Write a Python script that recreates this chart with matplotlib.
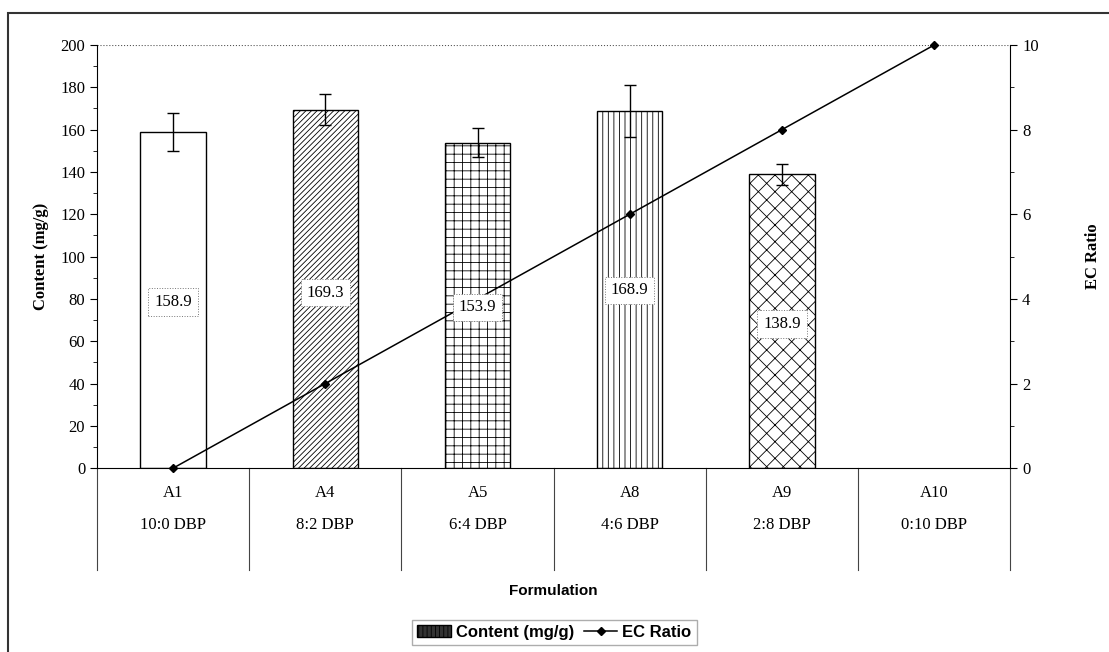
import numpy as np
import matplotlib
matplotlib.use('Agg')
import matplotlib.pyplot as plt
import matplotlib.transforms as mtransforms
from matplotlib.patches import Rectangle

plt.rcParams['font.family'] = 'Liberation Serif'
plt.rcParams['hatch.linewidth'] = 0.6
plt.rcParams['hatch.color'] = '#333333'

# data
codes = ['A1', 'A4', 'A5', 'A8', 'A9', 'A10']
ratios = ['10:0 DBP', '8:2 DBP', '6:4 DBP', '4:6 DBP', '2:8 DBP', '0:10 DBP']
content = [158.9, 169.3, 153.9, 168.9, 138.9, 0]
content_err = [9, 7.3, 7, 12.4, 5, 0]
ec_ratio = [0, 2, 4, 6, 8, 10]
label_y = [78.5, 83, 76, 84, 68]
hatches = ['', '//////', '++', '|||', 'xx']

fig = plt.figure(figsize=(11.09, 6.52), dpi=100)
ax = fig.add_axes([0.0875, 0.282, 0.8235, 0.649])

x = np.arange(len(codes))
for i in range(5):
    ax.bar(x[i], content[i], width=0.43, color='white', edgecolor='black',
           linewidth=1.0, hatch=hatches[i], zorder=2)

ax.set_xlim(-0.5, 5.5)
ax.set_ylim(0, 200)
ax.set_yticks(np.arange(0, 201, 20))
ax.set_yticks(np.arange(0, 201, 10), minor=True)
ax.tick_params(axis='y', labelsize=12, direction='out', length=5)
ax.tick_params(axis='y', which='minor', length=3)
ax.set_xticks([])
ax.axhline(200, color='#555555', lw=0.8, ls=':', zorder=1)
for s in ['top', 'right']:
    ax.spines[s].set_visible(False)
ax.set_ylabel('Content (mg/g)', fontsize=12, fontweight='bold', labelpad=8)

# two-level category labels with separators
trans = mtransforms.blended_transform_factory(ax.transData, ax.transAxes)
for i in range(len(codes)):
    ax.text(x[i], -0.058, codes[i], transform=trans, ha='center', va='center', fontsize=12)
    ax.text(x[i], -0.135, ratios[i], transform=trans, ha='center', va='center', fontsize=12)
for b in np.arange(-0.5, 6, 1):
    ax.plot([b, b], [0, -0.24], transform=trans, color='#444444', lw=0.8, clip_on=False)
ax.text(0.5, -0.29, 'Formulation', transform=ax.transAxes, ha='center', va='center',
        fontsize=11, fontweight='bold', family='Liberation Sans')

ax2 = ax.twinx()
ax2.plot(x, ec_ratio, color='black', lw=1.1, marker='D', markersize=4, zorder=3,
         clip_on=False)
ax2.set_ylim(0, 10)
ax2.set_yticks(np.arange(0, 11, 2))
ax2.set_yticks(np.arange(0, 11, 1), minor=True)
ax2.tick_params(axis='y', labelsize=12, length=5)
ax2.tick_params(axis='y', which='minor', length=3)
for s in ['top', 'left', 'bottom']:
    ax2.spines[s].set_visible(False)
ax2.set_ylabel('EC Ratio', fontsize=12, fontweight='bold', labelpad=33)

# error bars and value boxes drawn above the line, in content units
for i in range(5):
    ax2.errorbar(x[i], content[i], yerr=content_err[i], color='black',
                 capsize=4, elinewidth=1, capthick=1, zorder=4,
                 transform=ax.transData)
    ax2.text(x[i], label_y[i], '%.1f' % content[i], ha='center', va='center',
             fontsize=12, zorder=6, transform=ax.transData,
             bbox=dict(boxstyle='square,pad=0.35', fc='white', ec='#777777',
                       lw=0.7, ls=':'))

# legend
h1 = Rectangle((0, 0), 1, 1, fc='#333333', ec='black', hatch='||||')
h2, = ax2.plot([], [], color='black', lw=1.1, marker='D', markersize=4)
fig.legend([h1, h2], ['Content (mg/g)', 'EC Ratio'], loc='center',
           bbox_to_anchor=(0.5, 0.03), ncol=2, frameon=True, fancybox=False,
           edgecolor='#999999',
           prop={'weight': 'bold', 'size': 12, 'family': 'Liberation Sans'},
           handlelength=2.0, columnspacing=0.6, handletextpad=0.3,
           borderpad=0.3)

# outer frame
fig.add_artist(Rectangle((0.007, -0.01), 1.0, 0.99, transform=fig.transFigure,
                         fill=False, ec='#333333', lw=1.5))

fig.savefig('out.png', dpi=100)
